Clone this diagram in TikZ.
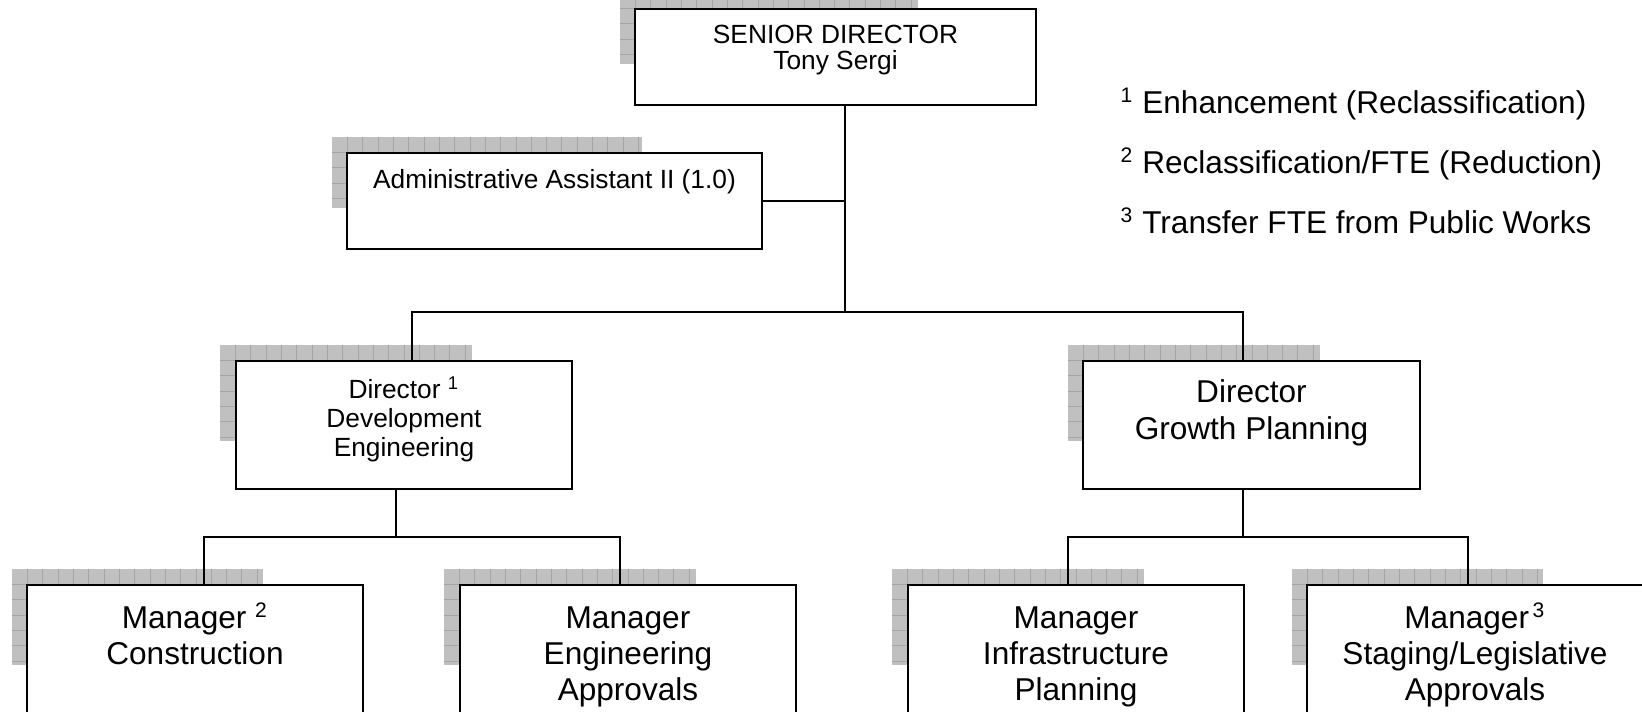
\documentclass[tikz,border=0pt]{standalone}
\usepackage{fontspec}
\setmainfont{Liberation Sans}
\usetikzlibrary{fit}

\definecolor{shadowgray}{RGB}{192,192,192}
\definecolor{gridgray}{RGB}{165,165,165}

% grid-patterned drop shadow: #1,#2 = top-left corner, #3,#4 = bottom-right corner
\newcommand\gridshadow[4]{%
  \begin{scope}
    \clip (#1,#2) rectangle (#3,#4);
    \fill[shadowgray] (#1,#2) rectangle (#3,#4);
    \foreach \k in {1,...,22} {\draw[gridline] ({#1+15.33*\k},#2) -- ({#1+15.33*\k},#4);}
    \foreach \k in {1,...,7} {\draw[gridline] (#1,{#2+15.33*\k}) -- (#3,{#2+15.33*\k});}
  \end{scope}}

\tikzset{
  gridline/.style={draw=gridgray, line width=0.35pt},
  orgbox/.style={draw=black, fill=white, line width=1.1pt, inner sep=0pt, rectangle},
  conn/.style={draw=black, line width=1.1pt},
  smalltxt/.style={font=\fontsize{10}{11.5}\selectfont, inner sep=0pt, anchor=base},
  bigtxt/.style={font=\fontsize{12}{13.8}\selectfont, inner sep=0pt, anchor=base},
  notetxt/.style={font=\fontsize{12}{13.8}\selectfont, inner sep=0pt, anchor=base west}
}

\begin{document}
\begin{tikzpicture}[x=0.38pt, y=-0.38pt]
\useasboundingbox (0,0) rectangle (1642,712);

% shadows
\gridshadow{620}{-7}{918}{64}
\gridshadow{332}{137}{642}{208}
\gridshadow{220}{345}{472}{441}
\gridshadow{1068}{345}{1320}{441}
\gridshadow{12}{569}{263}{665}
\gridshadow{444}{569}{696}{665}
\gridshadow{892}{569}{1144}{665}
\gridshadow{1292}{569}{1543}{665}

% junction points of the connector tree
\coordinate (spine) at (845,312);
\coordinate (admj) at (845,201);
\coordinate (b1l) at (412,312);
\coordinate (b1r) at (1243,312);
\coordinate (b2m) at (396,537);
\coordinate (b2l) at (204,537);
\coordinate (b2r) at (620,537);
\coordinate (b3m) at (1243,537);
\coordinate (b3l) at (1068,537);
\coordinate (b3r) at (1468,537);

% boxes
\node[orgbox, fit={(635,9) (1036,105)}] (sd) {};
\node[orgbox, fit={(347,153) (762,249)}] (adm) {};
\node[orgbox, fit={(236,361) (572,489)}] (de) {};
\node[orgbox, fit={(1083,361) (1420,489)}] (gp) {};
\node[orgbox, fit={(27,585) (363,713)}] (con) {};
\node[orgbox, fit={(460,585) (796,713)}] (eng) {};
\node[orgbox, fit={(908,585) (1244,713)}] (inf) {};
\node[orgbox, fit={(1307,585) (1643,713)}] (stg) {};

% connectors
\draw[conn] (sd.south -| spine) -- (spine);
\draw[conn] (adm.east |- admj) -- (admj);
\draw[conn] (b1l |- de.north) -- (b1l) -- (b1r) -- (b1r |- gp.north);
\draw[conn] (b2m |- de.south) -- (b2m);
\draw[conn] (b2l |- con.north) -- (b2l) -- (b2r) -- (b2r |- eng.north);
\draw[conn] (b3m |- gp.south) -- (b3m);
\draw[conn] (b3l |- inf.north) -- (b3l) -- (b3r) -- (b3r |- stg.north);

% box texts
\node[smalltxt] (sd1) at (835.5,44) {SENIOR DIRECTOR};
\node[smalltxt] (sd2) at (835.5,70) {Tony Sergi};
\node[smalltxt] (adm1) at (554.5,189) {Administrative Assistant II (1.0)};
\node[smalltxt] (de1) at (404,399) {Director \textsuperscript{1}};
\node[smalltxt] (de2) at (404,428) {Development};
\node[smalltxt] (de3) at (404,457) {Engineering};
\node[bigtxt] (gp1) at (1251.5,403) {Director};
\node[bigtxt] (gp2) at (1251.5,440) {Growth Planning};
\node[bigtxt] (con1) at (195,629) {Manager \textsuperscript{2}};
\node[bigtxt] (con2) at (195,665) {Construction};
\node[bigtxt] (eng1) at (628,629) {Manager};
\node[bigtxt] (eng2) at (628,665) {Engineering};
\node[bigtxt] (eng3) at (628,701) {Approvals};
\node[bigtxt] (inf1) at (1076,629) {Manager};
\node[bigtxt] (inf2) at (1076,665) {Infrastructure};
\node[bigtxt] (inf3) at (1076,701) {Planning};
\node[bigtxt] (stg1) at (1475,629) {Manager\textsuperscript{\,3}};
\node[bigtxt] (stg2) at (1475,665) {Staging/Legislative};
\node[bigtxt] (stg3) at (1475,701) {Approvals};

% notes
\node[notetxt] (n1) at (1120,114) {\textsuperscript{1} Enhancement (Reclassification)};
\node[notetxt] (n2) at (1120,174) {\textsuperscript{2} Reclassification/FTE (Reduction)};
\node[notetxt] (n3) at (1120,234) {\textsuperscript{3} Transfer FTE from Public Works};
\end{tikzpicture}
\end{document}
